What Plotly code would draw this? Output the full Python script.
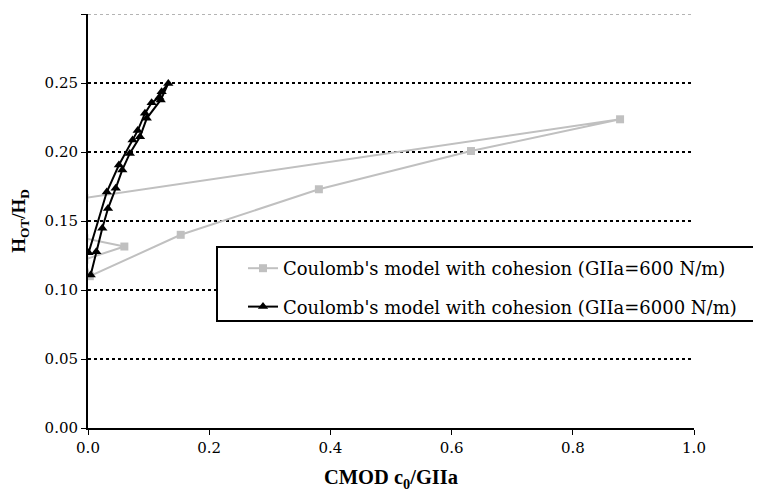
import plotly.graph_objects as go

# Series 1: Coulomb's model with cohesion (GIIa=600 N/m)
x600 = [-0.006, 0.878, 0.632, 0.381, 0.153, 0.003, -0.006, 0.060, -0.006]
y600 = [0.1667, 0.2237, 0.2007, 0.1730, 0.1400, 0.1100, 0.1220, 0.1315, 0.1375]

# Series 2: Coulomb's model with cohesion (GIIa=6000 N/m)
x6000 = [0.001, 0.031, 0.051, 0.0736, 0.082, 0.094, 0.105, 0.1177, 0.1215, 0.1325,
         0.120, 0.097, 0.0858, 0.069, 0.0566, 0.0457, 0.033, 0.0236, 0.0137, 0.0044]
y6000 = [0.127, 0.171, 0.1906, 0.2087, 0.2155, 0.228, 0.2357, 0.2396, 0.2437, 0.2497,
         0.2377, 0.2244, 0.211, 0.199, 0.187, 0.1737, 0.159, 0.1447, 0.1278, 0.1109]

names = ["Coulomb's model with cohesion (GIIa=600 N/m)",
         "Coulomb's model with cohesion (GIIa=6000 N/m)"]

grid_vals = [0.05, 0.10, 0.15, 0.20, 0.25]
top_grid = 0.30

fig = go.Figure()
fig.add_trace(go.Scatter(x=x600, y=y600, name=names[0], mode="lines+markers",
                         line=dict(color="#c0c0c0", width=2),
                         marker=dict(symbol="square", size=8, color="#c0c0c0"),
                         legendgroup="a"))
fig.add_trace(go.Scatter(x=x6000, y=y6000, name=names[1], mode="lines+markers",
                         line=dict(color="#000000", width=2),
                         marker=dict(symbol="triangle-up", size=9, color="#000000"),
                         legendgroup="b"))

shapes = []
for v in grid_vals:
    shapes.append(dict(type="line", xref="x", yref="y", x0=0, x1=1.0, y0=v, y1=v,
                       line=dict(color="black", width=2, dash="dot"), layer="below"))
shapes.append(dict(type="line", xref="x", yref="y", x0=0, x1=1.0, y0=top_grid, y1=top_grid,
                   line=dict(color="#b4b4b4", width=2, dash="dot"), layer="below"))
# legend box
shapes.append(dict(type="rect", xref="paper", yref="paper",
                   x0=(217 - 88) / 606, x1=(758 - 88) / 606,
                   y0=(428 - 321) / 414, y1=(428 - 247) / 414,
                   line=dict(color="black", width=2), fillcolor="white", layer="above"))

fig.update_layout(
    width=753, height=487,
    margin=dict(l=80, r=67, t=6, b=67),
    paper_bgcolor="white", plot_bgcolor="white",
    shapes=shapes,
    showlegend=True,
    legend=dict(x=(243 - 88) / 606, y=(428 - 250) / 414, xanchor="left", yanchor="top",
                bgcolor="rgba(0,0,0,0)", borderwidth=0,
                font=dict(family="DejaVu Serif", size=18, color="black"),
                itemwidth=30, tracegroupgap=12, traceorder="grouped"),
    font=dict(family="DejaVu Serif", size=15, color="black"),
)
fig.update_xaxes(range=[0, 1.0], dtick=0.2, tick0=0, tickformat=".1f", automargin=False,
                 showgrid=False, zeroline=False, showline=True, linecolor="black",
                 linewidth=2, ticks="outside", ticklen=5, tickwidth=1, tickcolor="black",
                 tickfont=dict(family="DejaVu Serif", size=15),
                 title=dict(text="<b>CMOD c<sub>0</sub>/GIIa</b>", standoff=14,
                            font=dict(family="Liberation Serif", size=20.5)))
fig.update_yaxes(range=[0, 0.30], dtick=0.05, tick0=0, tickformat=".2f", automargin=False,
                 showgrid=False, zeroline=False, showline=True, linecolor="black",
                 linewidth=2, ticks="outside", ticklen=5, tickwidth=1, tickcolor="black",
                 tickfont=dict(family="DejaVu Serif", size=15),
                 title=dict(text="<b>H<sub>OT</sub>/H<sub>D</sub></b>", standoff=19,
                            font=dict(family="Liberation Serif", size=19)))

fig.write_html("out.html")
